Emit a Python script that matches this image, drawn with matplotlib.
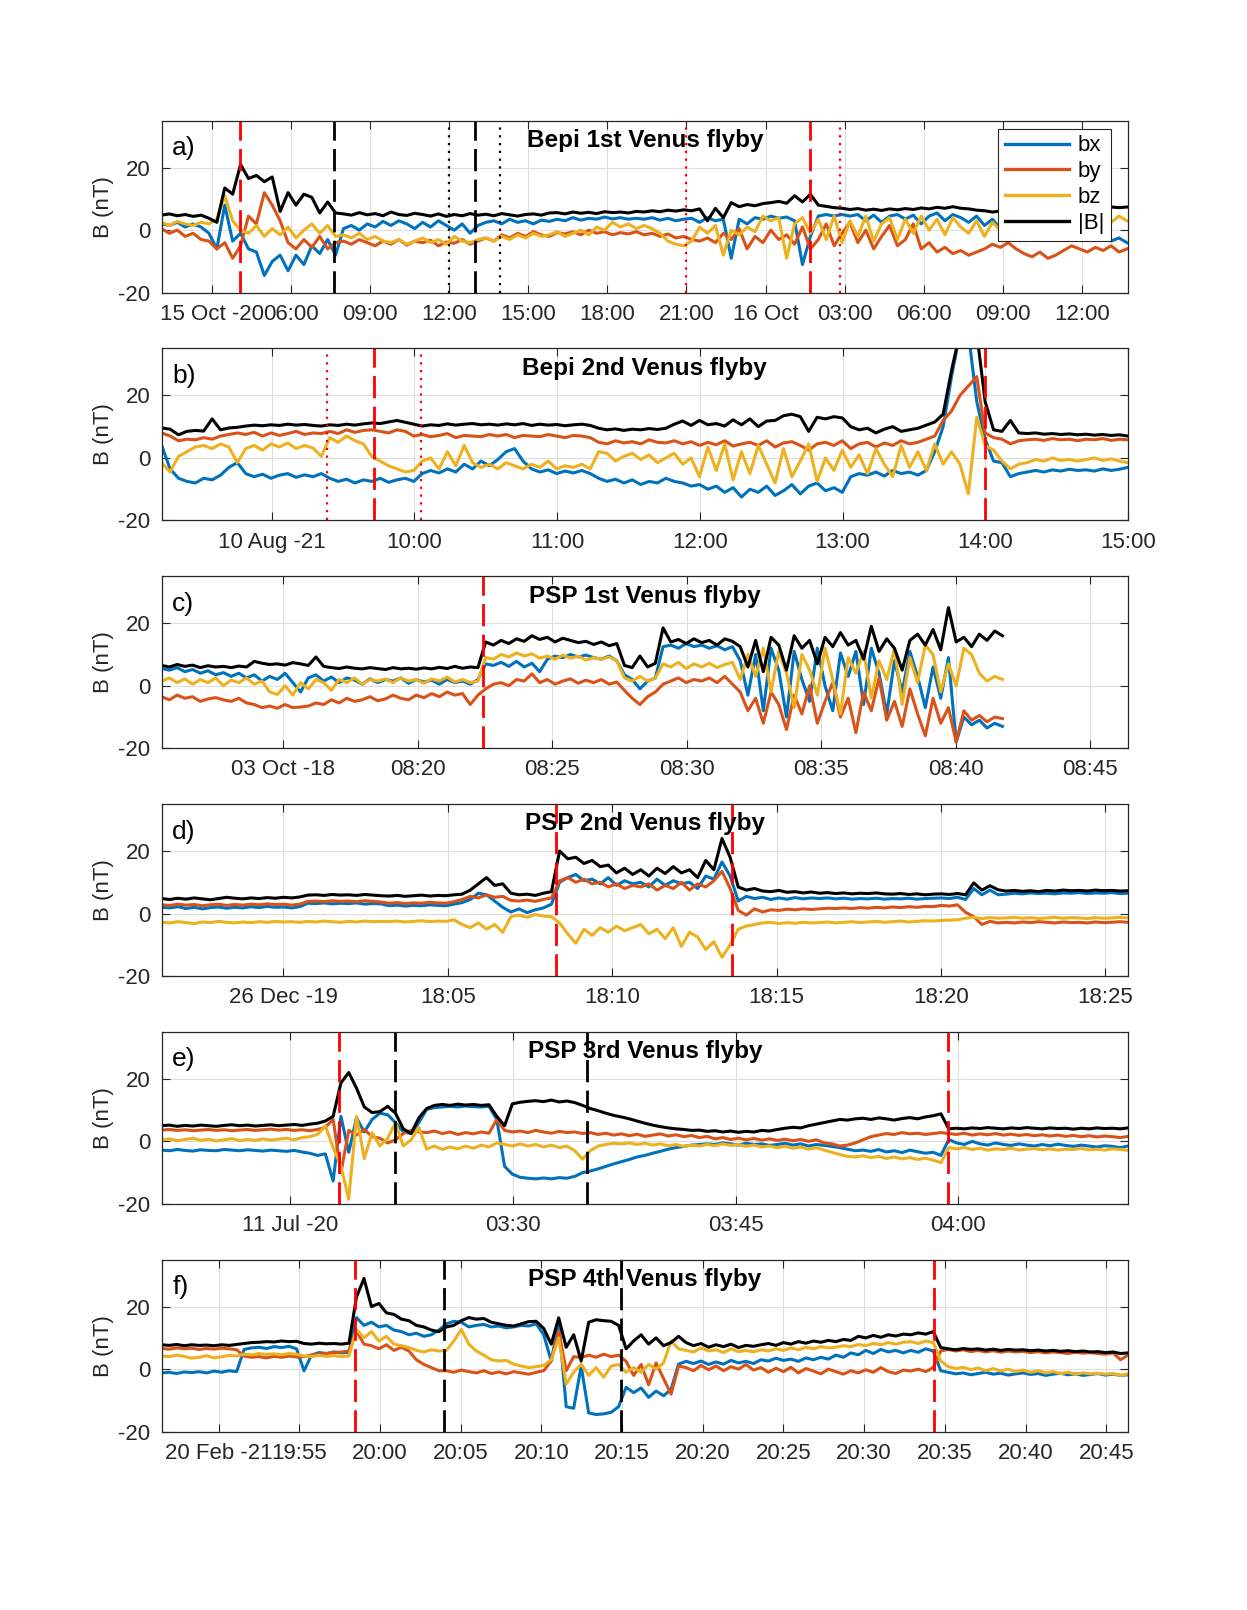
import numpy as np
import matplotlib
matplotlib.use('Agg')
from matplotlib import pyplot as plt

plt.rcParams['font.family'] = ['Liberation Sans', 'DejaVu Sans']
plt.rcParams['axes.unicode_minus'] = False

C_BX = '#0072BD'
C_BY = '#D95319'
C_BZ = '#EDB120'

# ---------------- panel a : Bepi 1st Venus flyby (hours from 15 Oct 00:00)
a_span = (1.1, 37.7)
a_bt = [4.8, 5.2, 4.6, 5.0, 4.4, 4.8, 3.8,
        2.5, 13.5, 11.5, 21.0, 16.5, 17.5, 15.5, 17.0, 6.0, 12.0, 8.0, 11.5, 10.5, 5.5, 9.0, 5.5,
        5.2, 4.8, 5.6, 4.9, 5.3, 4.6, 5.8, 5.0, 4.7, 5.4, 5.0, 4.5, 5.2, 4.4, 5.0, 4.6, 5.3, 4.8,
        5.1, 4.6, 5.3, 4.9, 4.5, 5.0, 5.2, 4.8, 5.5, 5.6, 5.2, 5.8, 5.4, 5.7, 5.3, 5.9, 5.6, 5.8, 5.5, 6.0,
        5.8, 6.2, 5.9, 6.4, 6.1, 6.5, 6.2,
        6.8, 3.0, 7.0, 4.0, 8.8, 7.5, 8.2, 7.8, 8.5, 8.8, 9.2, 8.6, 11.0, 9.0, 11.5, 8.0, 7.6, 7.2, 7.0,
        6.6, 6.9, 6.4, 6.7, 6.3, 6.8, 6.5, 6.9, 6.6, 7.1, 6.8, 7.3, 7.0, 7.5,
        7.0, 6.8, 6.4, 6.2, 5.8, 6.1, 5.9, 6.3, 6.0, 6.4, 6.2, 6.6, 6.5, 6.9, 6.7, 7.0, 6.8, 7.2, 7.0, 7.4, 7.2, 7.4]
a_bx = [2.0, 1.5, 2.5, 1.0, 2.0, 1.0, -1.0,
        -6.0, 8.0, -3.5, -1.0, -6.0, -7.0, -14.5, -10.0, -8.0, -13.0, -8.0, -11.0, -5.0, -7.5, -3.0, -8.0,
        0.5, 1.5, 0.0, 2.0, 1.0, 2.8, 1.5, 3.0, 2.0, 0.5, 2.5, 1.0, 3.0, 1.5, 0.0, 2.0, -1.0, 1.5,
        2.5, 3.0, 2.0, 3.5, 2.5, 3.0, 2.0, 3.2, 2.8, 3.5, 3.0, 4.0, 3.2, 3.8, 3.5, 4.2, 3.6, 4.0, 3.5, 3.8,
        3.5, 4.0, 3.2, 3.8, 3.0, 3.5, 3.8,
        2.5, 4.0, 3.0, 3.5, -9.0, 3.5, 2.0, 4.0, 3.5, 4.5, 3.8, 4.2, 3.0, -11.0, -2.0, 4.5, 5.0, 4.5, 5.0,
        4.5, 5.0, 3.0, 4.8, 2.5, 4.5, 5.0, 3.5, 4.8, 2.0, 4.5, 5.5, 3.0, 5.0,
        4.0, 2.5, 4.5, 1.5, 3.5, 0.5, 2.0, -1.0, 1.0, 0.0, -2.0, 1.0, -1.5, 0.5, -2.5, 0.0, -1.5, -3.0, -0.5, -3.5, -2.5, -4.0]
a_by = [0.5, -1.0, 0.0, -2.0, -1.0, -3.0, -3.5,
        -6.0, -4.0, -9.0, -5.0, 4.5, 2.0, 12.0, 8.0, 3.0, -4.0, -6.0, -3.0, -5.5, -2.0, -6.0, -4.0,
        -3.5, -4.5, -3.0, -4.0, -5.0, -3.5, -4.5, -3.0, -4.8, -3.5, -4.0, -3.2, -5.0, -3.8, -4.2, -3.0, -4.5, -3.5,
        -2.5, -3.5, -1.5, -2.5, -1.0, -2.0, -0.5, -1.5, -2.0, -0.8, -1.2, -0.5, -1.5, 0.0, -1.0, -0.5, -1.5, -0.8, -1.2, -0.5,
        -1.5, -1.0, -2.0, -1.2, -2.5, -2.0, -3.0,
        -3.5, -2.5, -4.0, -1.0, -3.0, 0.5, -6.0, -2.0, -4.0, 0.0, -3.0, -1.5, -4.5, 1.0, -6.0, -3.0, 2.0, -5.0, -1.0,
        2.5, -4.0, 0.0, -6.0, -2.0, 1.5, -5.0, -3.0, 2.0, -6.0, -4.0, -7.0, -5.5, -7.5,
        -6.5, -8.0, -7.0, -6.0, -4.5, -5.5, -4.0, -6.0, -7.5, -8.5, -7.0, -9.0, -8.0, -6.5, -5.0, -6.0, -7.0, -5.5, -6.5, -5.0, -7.0, -6.0]
a_bz = [2.5, 1.5, 2.8, 2.0, 1.5, 2.5, 2.0,
        3.5, 11.0, 3.0, 0.0, -1.0, 1.5, -2.0, 0.5, -1.5, 1.0, -2.5, 0.0, 2.0, -1.0, 1.5, -2.0,
        -1.5, -2.5, -1.0, -3.0, -2.0, -3.5, -4.0, -3.0, -4.5, -3.5, -2.5, -4.0, -3.0, -4.5, -2.0, -3.5, -4.0, -3.0,
        -2.5, -3.5, -2.0, -3.0, -1.5, -2.5, -1.0, -2.0, -1.5, -0.5, -2.0, -1.0, 0.0, -1.5, 1.0, 0.0, 2.5, 1.0, 2.0, 0.5,
        1.5, 0.5, -1.0, -3.5, -4.5, -5.0, -3.5,
        1.0, -1.0, 1.5, -8.0, 0.0, -1.5, 1.0, -0.5, 4.5, 3.0, 4.0, -9.0, 2.0, 4.0, -1.0, 3.5, -3.0, 4.5, -4.0,
        3.0, -2.0, 4.5, -3.5, 2.0, 4.0, -3.0, 3.5, -1.0, 4.5, 0.0, 3.5, -1.5, 4.0,
        1.0, -1.0, 3.0, -2.0, 2.5, 0.0, -2.5, 2.0, -1.0, -2.5, 0.5, -1.5, -3.0, -1.0, -2.0, 1.0, -0.5, 2.0, 4.0, 2.5, 4.5, 3.0]
a_xlim = (1.11, 37.74)
a_ticks = [3, 6, 9, 12, 15, 18, 21, 24, 27, 30, 33, 36]
a_ticklabels = ['15 Oct -20', '06:00', '09:00', '12:00', '15:00', '18:00', '21:00',
                '16 Oct', '03:00', '06:00', '09:00', '12:00']
a_lines = [(4.07, 'r', '--'), (7.64, 'k', '--'), (12.0, 'k', ':'), (12.97, 'k', '--'),
           (13.95, 'k', ':'), (21.0, 'r', ':'), (25.68, 'r', '--'), (26.82, 'r', ':')]

# ---------------- panel b : Bepi 2nd Venus flyby (hours from 10 Aug 00:00)
b_span = (8.23, 15.0)
b_bt = [9.6, 9.2, 7.4, 8.5, 8.8, 8.6, 12.5, 9.0, 9.6, 9.8,
        10.2, 10.5, 10.3, 10.6, 10.4, 10.8, 10.5, 10.7, 10.4, 10.2,
        10.6, 10.4, 10.8, 10.5, 10.9, 11.2, 11.0, 11.5, 12.0, 11.4,
        10.8, 10.2, 10.6, 10.4, 10.9, 10.5, 10.8, 11.0, 10.6, 10.8,
        10.5, 10.9, 10.6, 11.0, 10.4, 10.8, 10.5, 10.7, 10.3, 10.6,
        10.8, 10.4, 9.5, 9.0, 9.3, 8.8, 9.2, 9.0, 9.4, 9.1,
        9.5, 10.8, 11.8, 10.4, 12.0, 10.6, 11.0, 10.2, 12.2, 10.6,
        12.5, 10.0, 11.8, 12.0, 13.5, 14.0, 13.2, 8.5, 13.0, 12.5,
        13.2, 12.8, 10.0, 9.0, 9.5, 8.0, 9.2, 10.0, 8.5, 9.0,
        9.5, 10.5, 11.5, 14.0, 28.0, 40.0, 40.0, 40.0, 18.0, 9.0,
        8.5, 12.0, 8.0, 7.8, 8.0, 7.6, 7.8, 7.5, 7.7, 7.4,
        7.6, 7.3, 7.5, 7.2, 7.4, 7.0]
b_bx = [4.0, -3.5, -6.5, -7.5, -8.0, -6.5, -7.0, -5.5, -3.0, -1.5,
        -5.0, -6.0, -5.2, -6.5, -5.5, -5.0, -6.2, -5.4, -6.0, -5.0,
        -6.5, -7.5, -6.8, -8.0, -7.0, -7.5, -6.5, -7.8, -7.0, -6.5,
        -7.5, -5.0, -4.0, -4.8, -3.5, -4.5, -2.0, -3.5, -1.0, -2.5,
        -0.5, 2.0, 3.0, -1.0, -3.5, -4.5, -3.8, -5.0, -4.2, -4.8,
        -4.0, -5.0, -6.5, -7.5, -6.8, -8.0, -7.0, -8.5, -7.5, -8.0,
        -6.5, -7.5, -8.0, -9.0, -8.5, -10.0, -9.0, -11.0, -9.5, -12.5,
        -10.0, -11.0, -9.0, -12.0, -10.5, -8.5, -11.5, -9.0, -8.0, -10.5,
        -9.5, -11.0, -6.0, -5.0, -5.5, -4.5, -5.8, -4.0, -5.0, -4.5,
        -5.5, -4.0, 2.0, 10.0, 26.0, 40.0, 40.0, 18.0, 6.0, -1.0,
        -1.5, -6.0, -5.0, -4.5, -4.0, -4.5, -3.8, -4.2, -3.6, -4.0,
        -3.8, -4.2, -3.5, -4.0, -3.6, -3.0]
b_by = [8.0, 7.0, 5.5, 6.0, 5.8, 6.5, 6.0, 7.0, 7.5, 8.0,
        7.5, 8.2, 7.0, 8.0, 7.2, 7.8, 8.5, 7.5, 8.0, 7.8,
        8.5, 7.8, 9.0, 8.2, 8.8, 9.0, 8.5, 8.0, 9.0, 8.5,
        7.0, 7.5, 6.8, 7.2, 7.8, 6.5, 7.2, 7.0, 6.8, 7.5,
        7.0, 7.5, 6.5, 7.2, 7.0, 6.8, 7.5, 7.0, 6.5, 7.2,
        7.0, 6.5, 5.0, 4.5, 5.5, 4.8, 5.2, 4.5, 5.8, 5.0,
        4.8, 5.5, 4.5, 5.2, 4.0, 5.0, 4.2, 5.5, 3.8, 4.5,
        5.0, 4.0, 5.5, 3.5, 4.8, 5.2, 4.0, 2.5, 4.5, 5.0,
        4.0, 5.5, 3.0, 4.5, 5.0, 3.5, 4.8, 4.0, 5.5, 4.5,
        5.0, 6.0, 7.0, 12.0, 15.0, 20.0, 23.0, 26.0, 8.0, 6.5,
        6.0, 4.5, 5.5, 5.8, 6.0, 5.6, 6.2, 5.8, 6.0, 5.5,
        6.0, 5.8, 6.2, 5.6, 6.0, 5.8]
b_bz = [-1.5, -4.5, 0.5, 2.0, 3.5, 4.0, 3.0, 4.5, 3.5, -1.5,
        3.0, 4.0, 2.5, 4.5, 3.5, 4.8, 3.0, 4.0, 3.2, 0.5,
        6.5, 5.0, 7.0, 5.5, 4.5, 0.5, -1.0, -2.5, -3.5, -4.5,
        -4.0, -1.0, 0.0, -3.5, 2.0, -2.5, 4.0, -1.5, -3.0, -2.0,
        -3.5, -1.5, -2.5, -3.5, -2.0, -3.0, -1.0, -3.5, -2.5, -3.0,
        -2.0, -3.5, 2.0, 1.5, -1.0, 0.5, 1.5, -0.5, 1.0, -1.5,
        0.0, 1.5, -2.0, 0.0, -6.0, 3.5, -4.0, 4.5, -7.0, 2.0,
        -5.0, 4.0, -2.0, -8.0, 3.0, -6.0, -1.0, 4.5, -7.5, 0.0,
        -4.0, 2.5, -3.0, 1.0, -5.0, 3.0, -2.0, -6.0, 4.0, -3.0,
        2.0, -4.0, 4.5, -2.0, 2.0, -2.0, -11.5, 13.0, 4.0, 2.5,
        -1.0, -3.5, -2.0, -1.5, -0.5, -1.0, 0.0, -0.8, -0.5, -1.0,
        -0.5, 0.0, -0.8, -0.3, -1.0, -1.5]
b_xlim = (8.23, 15.0)
b_ticks = [9, 10, 11, 12, 13, 14, 15]
b_ticklabels = ['10 Aug -21', '10:00', '11:00', '12:00', '13:00', '14:00', '15:00']
b_lines = [(9.39, 'r', ':'), (9.72, 'r', '--'), (10.05, 'r', ':'), (14.0, 'r', '--')]

# ---------------- panel c : PSP 1st Venus flyby (minutes from 08:00)
c_span = (10.47, 41.74)
c_bt = [6.5, 6.0, 6.8, 6.2, 6.6, 5.8, 6.4, 6.0, 6.2, 5.8,
        6.3, 6.0, 7.8, 7.2, 6.8, 7.0, 6.6, 7.4, 7.0, 6.5,
        9.2, 6.2, 5.8, 5.5, 6.0, 5.6, 5.4, 5.8, 5.5, 5.2,
        5.8, 5.4, 5.6, 5.3, 5.7, 5.4, 5.9, 5.5, 6.2, 5.6,
        6.0, 5.8,
        14.0, 13.0, 14.5, 13.5, 15.0, 14.2, 16.0, 14.8,
        15.5, 14.0, 15.2, 14.5, 13.8, 14.2, 13.2, 14.0, 12.8, 13.5,
        6.5, 5.8, 9.5, 6.0, 7.2, 18.5, 14.0, 14.8, 13.5, 15.0,
        13.8, 14.5, 13.0, 15.0, 14.2, 12.5, 6.0, 14.5, 4.5, 15.5,
        13.0, 5.0, 16.0, 12.0, 14.5, 7.0, 15.5, 12.5, 17.0, 13.0,
        14.5, 8.5, 19.0, 11.0, 15.0, 12.0, 5.0, 14.5, 16.5, 13.0,
        18.0, 11.5, 25.0, 14.0, 15.5, 12.5, 16.5, 14.5, 17.5, 16.0]
c_bx = [5.5, 5.0, 5.8, 4.5, 5.2, 4.0, 4.8, 3.5, 4.2, 3.0,
        4.0, 2.5, 3.5, 1.5, 3.0, 2.0, 4.0, 1.0, -2.0, 2.5,
        3.5, 1.5, 2.8, 1.0, 2.5, 1.8, 0.5, 2.2, 1.0, 2.0,
        1.5, 2.5, 0.8, 2.0, 1.2, 1.8, 0.5, 2.0, 1.0, 1.5,
        0.5, 2.0,
        7.0, 6.5, 7.5, 6.2, 7.8, 6.0, 7.2, 4.5,
        8.5, 9.5, 9.0, 10.0, 9.2, 9.8, 9.0, 8.5, 9.5, 8.0,
        3.5, 2.0, -1.0, 1.5, 2.5, 12.5, 13.0, 12.0, 13.5, 12.5,
        13.0, 12.0, 12.8, 11.5, 12.5, 8.0, -3.0, 10.0, -8.0, 12.0,
        5.0, -10.0, 11.0, 2.0, -5.0, 12.0, 0.0, -8.0, 10.5, 3.0,
        11.0, -6.0, 12.0, 4.0, -9.0, 8.0, -2.0, 11.0, 3.0, -7.0,
        6.0, -4.0, 9.0, -18.0, -10.0, -12.5, -11.0, -13.5, -12.0, -13.0]
c_by = [-3.5, -4.5, -3.0, -4.0, -3.5, -5.0, -4.2, -3.8, -4.5, -5.0,
        -4.0, -5.5, -6.0, -7.0, -6.5, -7.2, -6.0, -7.0, -6.8, -6.5,
        -5.5, -6.0, -4.5, -5.5, -4.0, -5.0, -4.5, -3.5, -4.8, -4.2,
        -3.0, -4.0, -4.5, -3.0, -3.8, -2.5, -3.5, -2.0, -3.0, -2.5,
        -6.0, -3.0,
        -1.0, 0.5, 1.0, 0.0, 2.0, 1.5, 3.8, 1.0,
        2.0, 0.5, 1.5, 2.2, 0.8, 1.8, 1.0, 2.0, 0.5, 1.2,
        -1.5, -4.0, -6.0, -3.5, -2.0, 0.5, 1.5, 2.5, 1.0, 2.0,
        1.5, 2.5, 1.0, 3.0, 0.5, -2.0, -8.0, -4.0, -12.0, -2.0,
        -6.0, -14.0, -3.0, -9.0, 0.0, -12.0, -5.0, 1.0, -10.0, -4.0,
        -15.0, -2.0, -8.0, 2.5, -11.0, -5.0, -13.0, -1.0, -9.0, -16.0,
        -4.0, -12.0, -7.0, -18.0, -8.0, -11.0, -9.5, -11.5, -10.0, -10.5]
c_bz = [1.5, 2.5, 1.0, 2.2, 0.5, 2.0, 1.0, 2.5, 0.0, 1.8,
        1.0, 2.5, 0.5, 1.5, -2.0, -2.8, 0.0, -3.0, 1.0, -1.0,
        2.0, 1.0, -1.5, 2.0, 1.0, 2.5, 0.5, 2.0, 1.5, 2.2,
        1.0, 2.5, 1.5, 2.0, 0.8, 2.2, 1.5, 2.8, 1.2, 2.0,
        1.0, 1.5,
        9.0, 8.5, 10.0, 9.2, 10.5, 9.5, 10.2, 8.8,
        9.5, 8.5, 9.8, 8.8, 9.5, 8.2, 9.0, 8.5, 9.2, 8.0,
        2.5, 1.5, 3.0, 1.5, 2.5, 7.0, 6.0, 7.5, 5.5, 7.0,
        6.0, 7.2, 5.8, 6.8, 7.5, 2.0, 10.0, 3.0, 12.0, -2.0,
        11.0, 4.0, -7.0, 10.0, 5.0, -3.0, 12.0, 2.0, -9.0, 9.0,
        4.0, 11.0, -4.0, 8.0, 2.0, 12.0, -6.0, 9.0, 1.0, 13.0,
        10.0, -2.0, 7.0, 0.0, 12.0, 10.0, 4.0, 1.5, 3.0, 2.0]
c_xlim = (10.47, 46.41)
c_ticks = [15, 20, 25, 30, 35, 40, 45]
c_ticklabels = ['03 Oct -18', '08:20', '08:25', '08:30', '08:35', '08:40', '08:45']
c_lines = [(22.43, 'r', '--')]

# ---------------- panel d : PSP 2nd Venus flyby (minutes from 18:00)
d_span = (-3.70, 25.69)
d_bt = [4.8, 4.5, 4.9, 4.6, 5.0, 4.7, 4.4, 4.8, 5.2, 4.9,
        4.7, 5.0, 4.8, 5.1, 4.9, 5.2, 5.0, 5.3,
        5.9, 6.0, 5.8, 6.1, 5.9, 6.0, 5.8, 6.1, 5.9, 5.7,
        5.6, 5.8, 5.5, 5.7, 5.9, 5.6, 5.8, 5.7, 6.0,
        6.2, 7.5, 9.5, 11.5, 9.0, 9.5,
        6.5, 6.0, 6.2, 5.8, 6.5,
        7.0,
        20.0, 17.5, 18.0, 16.0, 17.0, 15.0, 15.5, 13.0, 14.5, 12.5,
        14.0, 12.0, 14.5, 12.8, 15.0, 13.0, 14.0, 11.5, 17.0, 14.0,
        24.0, 18.0,
        8.5, 7.5, 8.0, 7.2, 7.0, 7.4, 6.8, 7.0, 6.6, 6.9,
        6.5, 6.7, 6.4, 6.6, 6.3, 6.5, 6.4, 6.6, 6.3, 6.2, 6.4, 6.1, 6.3, 6.0, 6.2, 6.3, 6.1, 6.4,
        6.0, 9.8, 7.5, 8.9, 7.6,
        7.2, 7.4, 7.1, 7.3, 7.0, 7.4, 7.2, 7.5, 7.3, 7.4, 7.2, 7.5, 7.3, 7.4, 7.2, 7.3]
d_bx = [2.0, 1.8, 2.2, 1.6, 2.0, 1.5, 1.9, 2.1, 1.7, 2.0,
        1.8, 2.2, 1.9, 2.3, 2.0, 2.1, 1.8, 2.2,
        3.3, 3.2, 3.4, 3.1, 3.3, 3.2, 3.4, 3.0, 3.2, 3.1,
        2.5, 2.7, 2.4, 2.6, 2.5, 2.8, 2.6, 2.5, 3.0,
        3.5, 4.5, 6.5, 6.0, 4.0, 2.0,
        0.5, 1.5, 0.3, 1.2, 1.8,
        3.0,
        10.0, 11.5, 12.5, 10.5, 11.0, 9.5, 11.5, 9.0, 10.5, 9.5,
        10.0, 8.5, 11.0, 9.0, 10.5, 9.5, 10.0, 8.0, 12.0, 11.0,
        16.5, 12.0,
        4.0, 5.5, 4.8, 5.2, 4.5, 5.0, 4.6, 5.1, 4.7, 5.0,
        4.8, 5.0, 4.7, 4.9, 4.6, 4.8, 4.7, 4.9, 4.6, 4.8, 4.7, 4.9, 4.6, 4.8, 4.9, 5.0, 4.8, 5.2,
        4.5, 8.0, 6.0, 7.5, 6.0,
        6.2, 6.5, 6.3, 6.6, 6.4, 6.5, 6.3, 6.6, 6.5, 6.7, 6.4, 6.6, 6.5, 6.7, 6.4, 6.5]
d_by = [2.8, 2.6, 3.0, 2.7, 2.9, 2.5, 2.8, 3.0, 2.6, 2.9,
        2.7, 3.0, 2.8, 3.1, 2.9, 3.0, 2.7, 3.0,
        3.9, 4.0, 3.8, 4.1, 3.9, 4.0, 3.8, 4.1, 3.9, 3.7,
        3.3, 3.5, 3.2, 3.4, 3.3, 3.6, 3.4, 3.3, 3.8,
        4.5, 5.5, 5.0, 6.0, 5.2, 5.5,
        4.2, 4.0, 4.3, 3.9, 4.5,
        5.0,
        10.5, 11.5, 10.0, 11.0, 9.5, 10.0, 8.5, 9.5, 8.0, 9.0,
        8.5, 9.5, 7.5, 9.0, 8.0, 10.0, 7.5, 9.5, 8.5, 10.5,
        13.5, 8.0,
        1.0, -0.5, 1.5, 0.5, 1.2, 1.0, 1.4, 1.2, 1.5, 1.3,
        1.5, 1.7, 1.6, 1.8, 1.6, 1.9, 1.7, 2.0, 1.8, 2.1, 1.9, 2.2, 2.0, 2.3, 2.2, 2.6, 2.4, 2.8,
        0.4, -1.0, -3.5, -2.5, -3.0,
        -2.8, -3.0, -2.7, -2.9, -2.6, -2.8, -3.0, -2.7, -2.9, -2.8, -3.0, -2.7, -2.9, -2.8, -2.6, -2.8]
d_bz = [-2.8, -3.0, -2.6, -2.9, -3.2, -2.7, -2.9, -2.5, -2.8, -3.0,
        -2.7, -2.9, -2.6, -2.8, -2.5, -2.7, -2.6, -2.8,
        -2.5, -2.7, -2.4, -2.6, -2.8, -2.5, -2.7, -2.4, -2.6, -2.5,
        -2.6, -2.4, -2.7, -2.5, -2.3, -2.6, -2.4, -2.5, -2.0,
        -3.5, -4.5, -3.0, -5.0, -3.5, -6.0,
        -1.0, -0.5, -1.2, -0.3, -0.8,
        -1.0,
        -3.0, -6.5, -9.5, -5.0, -7.0, -4.5, -6.0, -4.0, -5.5, -4.5,
        -3.5, -6.5, -5.0, -8.0, -4.5, -10.5, -6.0, -7.5, -11.5, -9.0,
        -14.0, -10.0,
        -5.0, -4.0, -3.5, -3.0, -2.8, -3.2, -2.9, -3.1, -2.8, -3.0,
        -2.9, -2.7, -3.0, -2.8, -2.6, -2.9, -2.7, -2.5, -2.8, -2.6, -2.4, -2.7, -2.5, -2.3, -2.4, -2.2, -2.1, -2.0,
        -1.5, -1.2, -1.6, -1.3, -1.5,
        -1.4, -1.2, -1.5, -1.3, -1.6, -1.4, -1.2, -1.5, -1.3, -1.4, -1.6, -1.3, -1.5, -1.4, -1.2, -1.4]
d_xlim = (-3.70, 25.69)
d_ticks = [0, 5, 10, 15, 20, 25]
d_ticklabels = ['26 Dec -19', '18:05', '18:10', '18:15', '18:20', '18:25']
d_lines = [(8.29, 'r', '--'), (13.65, 'r', '--')]

# ---------------- panel e : PSP 3rd Venus flyby (minutes from 03:00)
e_span = (6.34, 71.42)
e_bt = [5.0, 5.2, 4.8, 5.1, 4.9, 5.2, 5.0, 4.8, 5.1, 5.3, 5.0, 5.2, 4.9, 5.1, 5.3, 5.0, 5.2, 5.4, 5.1, 5.5,
        5.8, 6.5, 8.0,
        18.7, 22.0, 17.0, 11.0, 9.2, 9.5, 11.2, 9.0, 4.0, 2.5, 7.5, 10.5, 11.5,
        11.8, 11.5, 11.9, 11.6, 11.8, 11.5, 11.7,
        8.0, 5.0, 12.0,
        12.5, 12.8, 13.0, 12.7, 13.2, 12.6, 12.9, 12.4,
        11.5,
        10.5, 9.8, 9.0, 8.3, 7.8,
        7.2, 6.5, 5.8, 5.2, 4.7, 4.3, 4.0, 3.8, 3.5, 3.6,
        3.2, 3.4, 3.0, 3.3, 2.9, 3.2, 3.0, 3.5, 3.3, 3.8,
        4.2, 4.5, 4.3, 5.0, 5.5, 6.0, 6.5, 7.0, 6.8, 7.2,
        7.4, 7.0, 7.5, 7.2, 6.8, 7.3, 7.6, 7.2, 7.8, 8.2,
        8.8, 4.0,
        4.2, 4.0, 4.3, 4.1, 4.4, 4.2, 4.0, 4.3, 4.1, 4.4, 4.2, 4.0, 4.3, 4.1, 4.2, 3.9, 4.2, 4.0, 4.3, 4.1,
        4.2, 4.0, 4.3]
e_bx = [-2.8, -3.0, -2.6, -2.9, -3.1, -2.7, -2.9, -3.0, -2.6, -2.8, -3.0, -2.7, -2.9, -3.1, -2.8, -3.0, -3.2, -2.9, -3.4, -3.8,
        -4.5, -4.0, -12.7,
        8.0, -3.5, 7.5, 3.0, 7.0, 9.0, 8.5, 6.0, 3.0, 2.5, 6.0, 10.2, 10.8,
        11.0, 11.2, 11.0, 11.3, 11.1, 11.0, 11.2,
        7.0, -8.0, -10.5,
        -11.5, -11.8, -12.0, -11.7, -12.0, -11.6, -11.8, -11.2,
        -10.0,
        -9.5, -8.8, -8.0, -7.2, -6.5,
        -5.8, -5.0, -4.5, -3.8, -3.2, -2.5, -2.0, -1.6, -1.2, -1.0,
        -0.8, -1.0, -0.5, -0.8, -1.2, -0.6, -1.0, -0.8, -1.3, -1.0,
        -0.6, -1.2, -0.8, -1.5, -1.0, -1.3, -1.6, -2.0, -2.5, -3.0,
        -2.8, -3.2, -2.6, -3.4, -3.0, -3.6, -2.8, -3.3, -3.8, -3.5,
        -4.5, 0.6,
        -0.5, -1.0, 0.0, -0.8, -1.2, -0.5, -1.0, -1.3, -0.8, -1.2, -1.5, -1.0, -1.4, -0.9, -1.3, -1.6, -1.2, -1.5, -1.8, -1.4,
        -1.6, -2.0, -1.5]
e_by = [3.6, 3.8, 3.5, 3.7, 3.4, 3.6, 3.8, 3.5, 3.7, 3.4, 3.6, 3.8, 3.5, 3.7, 3.9, 3.6, 3.8, 3.5, 3.7, 3.4,
        3.8, 4.5, 7.0,
        -10.0, 3.5, 2.0, 3.8, 1.5, 1.0, -0.5, 0.5, 2.5, 3.5, 3.0, 2.8, 3.3,
        2.5, 3.0, 2.2, 2.8, 2.4, 3.0, 2.6,
        7.0, 3.5, 3.0,
        3.3, 2.8, 3.5, 3.0, 2.6, 3.2, 2.8, 3.0,
        2.5,
        2.8, 2.2, 2.6, 2.0, 2.4,
        1.8, 2.3, 1.6, 2.0, 2.4, 1.7, 2.1, 1.5, 1.9, 1.2,
        1.6, 0.8, 1.2, 0.6, 1.0, 0.5, 0.9, 0.4, 0.8, 0.3,
        0.7, 0.2, 0.6, 0.0, 0.5, -0.5, -0.8, -1.5, -1.2, -0.5,
        0.5, 1.5, 2.0, 2.5, 2.2, 2.8, 2.4, 2.6, 2.2, 2.5,
        2.8, 2.5,
        2.2, 2.6, 2.0, 2.4, 2.1, 2.5, 2.0, 2.3, 1.9, 2.2, 1.8, 2.1, 1.7, 2.0, 1.6, 1.9, 1.5, 1.8, 1.4, 1.7,
        1.5, 1.2, 1.6]
e_bz = [0.4, 0.8, 0.2, 0.6, 1.0, 0.3, 0.7, 0.1, 0.5, 0.9, 0.2, 0.6, 0.3, 0.8, 0.4, 0.7, 1.0, 0.5, 1.2, 1.5,
        2.2, 5.0, -2.0,
        -7.9, -18.5, 8.0, -5.5, 2.8, -1.5, 1.0, 6.0, -1.5, 0.5, 4.4, -2.5, -1.5,
        -2.6, -1.8, -2.4, -1.5, -2.2, -1.2, -1.8,
        -0.5, -1.0, -1.5,
        -0.8, -1.5, -1.0, -1.8, -1.2, -2.0, -1.5, -3.0,
        -5.7,
        -3.0, -1.5, -1.0, -0.6, -0.8,
        -0.5, -1.0, -0.6, -1.2, -0.8, -1.4, -1.0, -1.6, -1.2, -1.5,
        -1.0, -1.4, -0.8, -1.3, -1.0, -1.6, -1.2, -1.8, -1.5, -2.0,
        -1.6, -2.2, -1.8, -2.5, -2.0, -2.8, -3.5, -4.2, -4.8, -5.0,
        -4.6, -5.2, -4.8, -5.5, -5.0, -5.6, -5.2, -5.8, -5.4, -6.0,
        -6.8, -2.0,
        -2.4, -2.0, -2.6, -2.2, -2.8, -2.4, -2.6, -2.2, -2.8, -2.5, -2.3, -2.7, -2.4, -2.8, -2.5, -2.6, -2.3, -2.7, -2.5, -2.8,
        -2.4, -2.6, -2.9]
e_xlim = (6.34, 71.42)
e_ticks = [15, 30, 45, 60]
e_ticklabels = ['11 Jul -20', '03:30', '03:45', '04:00']
e_lines = [(18.29, 'r', '--'), (22.04, 'k', '--'), (35.0, 'k', '--'), (59.33, 'r', '--')]

# ---------------- panel f : PSP 4th Venus flyby (minutes from 19:00)
f_span = (46.47, 106.35)
f_bt = [7.8, 7.6, 7.9, 7.5, 7.8, 7.6, 7.7, 7.5, 7.8, 7.6, 7.9,
        8.2, 8.5, 8.6, 8.8, 8.7, 9.0, 8.8, 8.9,
        8.2, 8.0, 8.3, 8.1, 8.2, 8.0, 8.3,
        23.0, 29.0,
        20.0, 21.0, 18.0, 17.5, 16.0, 15.5,
        14.0, 13.5, 12.5, 12.0,
        13.5, 14.0, 15.5,
        16.5, 16.0, 16.2, 15.0, 14.5,
        14.0, 13.8, 14.5, 15.2, 15.3,
        13.0, 8.0, 16.4, 7.0, 11.0, 2.6,
        15.0, 15.8, 15.5, 15.3,
        14.0, 6.5,
        9.0, 11.0, 8.0, 10.0, 7.5, 8.5, 10.5,
        8.5, 7.5, 8.2, 7.0, 7.8, 7.2, 8.0, 6.9, 7.6, 7.3,
        7.8, 8.2, 7.6, 8.5, 8.0, 8.8, 8.3, 9.0, 8.6, 9.2,
        8.8, 9.5, 9.2, 10.5, 10.0, 10.8, 10.2, 11.0, 10.6, 11.2,
        11.0, 11.6, 11.2, 12.0,
        6.9,
        6.5, 6.2, 6.6, 6.3, 6.5, 6.1, 6.4, 6.0, 6.3, 6.1, 6.2, 5.9, 6.1, 5.8, 6.0, 5.7, 5.9, 5.6, 5.8, 5.5,
        5.6, 5.3, 5.5, 5.0, 5.2]
f_bx = [-1.2, -1.0, -1.4, -0.9, -1.1, -0.8, -1.2, -0.6, -1.0, -0.5, -0.8,
        6.3, 6.8, 7.0, 6.6, 7.2, 6.9, 7.3, 6.5,
        -0.5, 4.5, 5.3, 5.0, 5.5, 5.2, 5.4,
        16.5, 14.0,
        15.0, 13.5, 14.0, 12.5, 12.0, 11.0,
        11.5, 10.5, 11.0, 12.5,
        14.5, 15.3, 15.0,
        13.5, 14.0, 14.3, 13.5, 13.8,
        13.2, 13.5, 14.0, 13.8, 14.5,
        11.0, 2.6, 15.0, -12.0, -12.5, 1.0,
        -14.0, -14.5, -14.3, -13.8,
        -12.0, -5.8,
        -7.5, -6.0, -9.0, -7.0, -8.5, -6.5, 1.6,
        2.5, 1.8, 2.6, 1.5, 2.3, 1.6, 2.8, 2.0, 2.5, 1.8,
        3.0, 2.6, 3.5, 2.8, 3.2, 2.5, 3.6, 3.0, 3.8, 3.2,
        4.5, 3.8, 5.2, 4.6, 6.0, 5.0, 6.3, 5.5, 6.0, 5.2,
        6.0, 5.4, 6.5, 5.8,
        -0.5,
        -1.0, -1.5, -1.2, -1.8, -1.4, -1.0, -1.6, -1.3, -1.9, -1.5, -1.2, -1.7, -1.4, -2.0, -1.6, -1.3, -1.8, -1.5, -2.0, -1.7,
        -1.4, -1.9, -1.6, -2.0, -1.8]
f_by = [6.6, 6.4, 6.8, 6.5, 6.7, 6.3, 6.6, 6.4, 6.7, 6.5, 6.2,
        4.2, 3.8, 4.0, 3.6, 4.1, 3.8, 4.2, 3.9,
        4.0, 4.5, 4.8, 5.0, 5.3, 5.5, 5.8,
        12.2, 8.0,
        7.5, 6.5, 7.8, 6.0, 7.0, 5.8,
        3.0, 1.5, 0.5, -0.5,
        -0.5, -1.0, -0.3,
        -0.8, -1.2, -0.5, -1.4, -0.9,
        -1.5, -0.8, -1.2, -1.6, -1.0,
        -0.5, 2.6, 12.2, -0.5, 4.0, 3.7,
        4.5, 3.8, 4.8, 4.0,
        4.5, 2.5,
        -2.0, 1.5, -5.0, 2.0, -3.0, -8.0, 1.0,
        0.5, -0.5, 1.2, -0.2, 1.0, -0.5, 0.8, 0.0, 1.5, -0.3,
        0.5, -1.0, 0.3, -0.8, 0.6, -1.2, 0.2, -0.6, -1.5, 0.0,
        -0.8, -1.6, -0.5, -1.2, -0.2, -1.0, 0.5, -0.8, -1.4, -0.3,
        -0.6, 0.0, -0.8, 0.5,
        5.8,
        6.3, 5.8, 6.2, 5.6, 6.0, 5.5, 5.9, 5.4, 5.8, 5.5, 5.7, 5.3, 5.6, 5.2, 5.5, 5.3, 5.0, 5.4, 5.1, 5.3,
        5.0, 4.8, 5.2, 3.0, 4.5]
f_bz = [4.2, 4.0, 4.5, 4.1, 3.5, 3.8, 4.3, 3.6, 4.0, 4.4, 4.2,
        4.8, 4.6, 5.0, 4.7, 4.9, 4.6, 5.0, 4.8,
        4.2, 4.0, 4.4, 4.1, 4.3, 4.0, 4.2,
        12.7, 10.0,
        12.0, 9.0, 10.5, 8.0, 7.5, 6.9,
        6.0, 5.5, 6.2, 5.8,
        6.0, 9.0, 12.7,
        8.0, 5.8, 4.5, 3.0, 2.6,
        2.8, 1.6, 1.0, 0.5, 0.8,
        1.2, 3.0, 10.0, -4.8, -1.0, 1.6,
        -2.0, 0.5, -2.6, 1.0,
        1.5, -1.0,
        0.5, -1.0, 1.5, 0.0, 2.0, 9.0, 6.5,
        6.0, 5.5, 6.8, 5.8, 6.2, 5.3, 6.5, 5.6, 6.0, 5.5,
        6.2, 5.8, 6.5, 6.0, 6.8, 6.2, 7.0, 6.5, 7.2, 6.8,
        7.0, 7.5, 7.2, 7.9, 7.5, 8.2, 7.8, 8.5, 8.0, 8.6,
        8.8, 8.2, 9.0, 8.5,
        2.6,
        0.8, 0.2, 0.6, -0.2, 0.4, -0.5, 0.2, -0.6, 0.0, -0.8, -0.3, -1.0, -0.5, -1.2, -0.8, -1.4, -1.0, -1.6, -1.2, -1.5,
        -1.3, -1.6, -1.4, -2.0, -1.5]
f_xlim = (46.47, 106.35)
f_ticks = [50, 55, 60, 65, 70, 75, 80, 85, 90, 95, 100, 105]
f_ticklabels = ['20 Feb -21', '19:55', '20:00', '20:05', '20:10', '20:15', '20:20',
                '20:25', '20:30', '20:35', '20:40', '20:45']
f_lines = [(58.44, 'r', '--'), (63.96, 'k', '--'), (74.96, 'k', '--'), (94.33, 'r', '--')]

panels = [
    ('a)', 'Bepi 1st Venus flyby', a_span, a_bx, a_by, a_bz, a_bt, a_xlim, a_ticks, a_ticklabels, a_lines),
    ('b)', 'Bepi 2nd Venus flyby', b_span, b_bx, b_by, b_bz, b_bt, b_xlim, b_ticks, b_ticklabels, b_lines),
    ('c)', 'PSP 1st Venus flyby', c_span, c_bx, c_by, c_bz, c_bt, c_xlim, c_ticks, c_ticklabels, c_lines),
    ('d)', 'PSP 2nd Venus flyby', d_span, d_bx, d_by, d_bz, d_bt, d_xlim, d_ticks, d_ticklabels, d_lines),
    ('e)', 'PSP 3rd Venus flyby', e_span, e_bx, e_by, e_bz, e_bt, e_xlim, e_ticks, e_ticklabels, e_lines),
    ('f)', 'PSP 4th Venus flyby', f_span, f_bx, f_by, f_bz, f_bt, f_xlim, f_ticks, f_ticklabels, f_lines),
]

W, H = 1247, 1610
fig = plt.figure(figsize=(W / 100, H / 100), dpi=100)

ax_left = 161.7 / W
ax_w = 966.3 / W
ax_h = 172.0 / H

for k, (lab, title, span, bx, by, bz, bt, xlim, ticks, ticklabels, vlines) in enumerate(panels):
    top = 120.7 + k * 227.8
    ax = fig.add_axes([ax_left, 1 - (top + 172.0) / H, ax_w, ax_h])
    t = np.linspace(span[0], span[1], len(bt))
    ax.plot(t, bx, color=C_BX, lw=2.2, label='bx')
    ax.plot(t, by, color=C_BY, lw=2.2, label='by')
    ax.plot(t, bz, color=C_BZ, lw=2.2, label='bz')
    ax.plot(t, bt, color='k', lw=2.2, label='|B|')
    for xv, col, ls in vlines:
        if ls == '--':
            ax.axvline(xv, color=col, lw=2.0, dashes=(8, 3))
        else:
            ax.axvline(xv, color=col, lw=1.6, dashes=(1, 2.5))
    ax.set_xlim(xlim)
    ax.set_ylim(-20, 35)
    ax.set_yticks([-20, 0, 20])
    ax.set_xticks(ticks)
    ax.set_xticklabels(ticklabels)
    ax.grid(True, color='#dedede', lw=0.8)
    ax.set_axisbelow(True)
    ax.tick_params(direction='in', length=6, width=0.8, top=True, right=True,
                   labelsize=16, colors='#262626', pad=8)
    for s in ax.spines.values():
        s.set_color('#262626')
        s.set_linewidth(0.9)
    ax.set_ylabel('B (nT)', fontsize=16, color='#262626', labelpad=3)
    ax.text(0.5, 0.885, title, transform=ax.transAxes, ha='center', va='center',
            fontsize=17.5, fontweight='bold')
    ax.text(0.011, 0.84, lab, transform=ax.transAxes, ha='left', va='center', fontsize=19)
    if k == 0:
        leg = ax.legend(loc='upper right', bbox_to_anchor=(1 - 17 / 966.3, 1 - 8 / 172.0),
                        borderaxespad=0, fontsize=16, handlelength=2.9, handletextpad=0.4,
                        labelspacing=0.22, borderpad=0.3, fancybox=False, framealpha=1)
        leg.get_frame().set_edgecolor('#262626')
        leg.get_frame().set_linewidth(0.8)
        for h in leg.get_lines():
            h.set_linewidth(2.4)

fig.savefig('out.png', dpi=100)
